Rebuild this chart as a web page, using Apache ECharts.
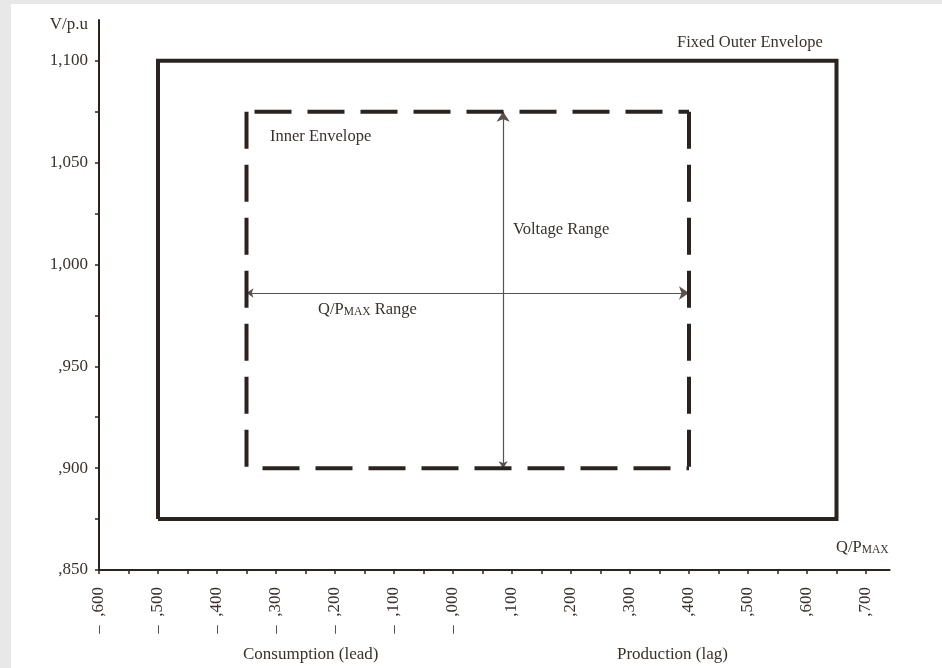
<!DOCTYPE html>
<html>
<head>
<meta charset="utf-8">
<script src="https://cdn.jsdelivr.net/npm/echarts@6/dist/echarts.min.js"></script>
<style>
html,body{margin:0;padding:0;background:#e8e8e8;}
#c{width:942px;height:668px;}
</style>
</head>
<body>
<div id="c"></div>
<script>
// ---- data ----
const xTickValues = [-0.6,-0.55,-0.5,-0.45,-0.4,-0.35,-0.3,-0.25,-0.2,-0.15,-0.1,-0.05,0,0.05,0.1,0.15,0.2,0.25,0.3,0.35,0.4,0.45,0.5,0.55,0.6,0.65,0.7];
const xLabelValues = [-0.6,-0.5,-0.4,-0.3,-0.2,-0.1,0,0.1,0.2,0.3,0.4,0.5,0.6,0.7];
const xLabelTexts = ['–  ,600','–  ,500','–  ,400','–  ,300','–  ,200','–  ,100','–  ,000',',100',',200',',300',',400',',500',',600',',700'];
const yTickValues = [0.85,0.875,0.9,0.925,0.95,0.975,1.0,1.025,1.05,1.075,1.1];
const yLabelValues = [0.85,0.9,0.95,1.0,1.05,1.1];
const yLabelTexts = [',850',',900',',950','1,000','1,050','1,100'];

const outerEnvelope = [[-0.5,0.875],[-0.5,1.1],[0.65,1.1],[0.65,0.875],[-0.5,0.875]];
const innerLeft   = [[-0.35,1.075],[-0.35,0.9]];
const innerTop    = [[-0.35,1.075],[0.4,1.075]];
const innerRight  = [[0.4,1.075],[0.4,0.9]];
const innerBottom = [[-0.35,0.9],[0.4,0.9]];
const voltageArrow = [[0.085,0.9],[0.085,1.075]];
const qArrow = [[-0.35,0.986],[0.4,0.986]];

// ---- chart ----
const ink = '#2b2320';
const txt = '#3a312d';
const font = '"Liberation Serif", "DejaVu Serif", serif';

const chart = echarts.init(document.getElementById('c'));

function dashed(data, offset){
  return {type:'line', data:data, symbol:'none', silent:true, z:3,
    lineStyle:{color:ink, width:4, type:[37,16], dashOffset:offset, cap:'butt'}};
}

const richQ = {a:{font:'16.5px '+font, fill:txt}, b:{font:'11.5px '+font, fill:txt, verticalAlign:'bottom', padding:[3,0,0,0]}};

chart.setOption({
  animation:false,
  backgroundColor:'#e8e8e8',
  graphic:[
    {type:'rect', left:11, top:4, shape:{width:931, height:664}, style:{fill:'#ffffff'}, z:-10},
    {type:'text', right:942-88, top:16, style:{text:'V/p.u', font:'17px '+font, fill:txt}},
    {type:'text', left:677, top:34, style:{text:'Fixed Outer Envelope', font:'16.5px '+font, fill:txt}},
    {type:'text', left:270, top:128, style:{text:'Inner Envelope', font:'16.5px '+font, fill:txt}},
    {type:'text', left:513, top:221, style:{text:'Voltage Range', font:'16.5px '+font, fill:txt}},
    {type:'text', left:318, top:301, style:{text:'{a|Q/P}{b|MAX}{a| Range}', fill:txt, rich:richQ}},
    {type:'text', left:836, top:539, style:{text:'{a|Q/P}{b|MAX}', fill:txt, rich:richQ}},
    {type:'text', left:243, top:646, style:{text:'Consumption (lead)', font:'17px '+font, fill:txt}},
    {type:'text', left:617, top:646, style:{text:'Production (lag)', font:'17px '+font, fill:txt}}
  ],
  grid:{left:99, right:52.4, top:20, bottom:98, containLabel:false},
  xAxis:{
    type:'value', min:-0.6, max:0.74,
    axisLine:{show:true, onZero:false, lineStyle:{color:ink, width:2}},
    axisTick:{show:true, length:4, inside:false, customValues:xTickValues, lineStyle:{color:ink, width:1.5}},
    axisLabel:{show:true, rotate:90, margin:17, customValues:xLabelValues, color:txt, fontFamily:font, fontSize:17,
      formatter:function(v){ const i = Math.round((v+0.6)*10); return xLabelTexts[i]; }},
    splitLine:{show:false}
  },
  yAxis:{
    type:'value', min:0.85, max:1.12,
    axisLine:{show:true, onZero:false, lineStyle:{color:ink, width:2}},
    axisTick:{show:true, length:4, customValues:yTickValues, lineStyle:{color:ink, width:1.5}},
    axisLabel:{show:true, margin:11, customValues:yLabelValues, color:txt, fontFamily:font, fontSize:17,
      formatter:function(v){ const i = Math.round((v-0.85)*20); return yLabelTexts[i]; }},
    splitLine:{show:false}
  },
  series:[
    {type:'line', data:outerEnvelope, symbol:'none', silent:true, z:3,
      lineStyle:{color:ink, width:4, join:'miter'}},
    dashed(innerLeft, 0),
    dashed(innerTop, -8),
    dashed(innerRight, 0),
    dashed(innerBottom, -16),
    {type:'lines', coordinateSystem:'cartesian2d', polyline:false, silent:true, z:2,
      symbol:['arrow','arrow'], symbolSize:[7,10],
      lineStyle:{color:'#5a514d', width:1.2, opacity:1},
      data:[{coords:voltageArrow},{coords:qArrow}]}
  ]
});
</script>
</body>
</html>
